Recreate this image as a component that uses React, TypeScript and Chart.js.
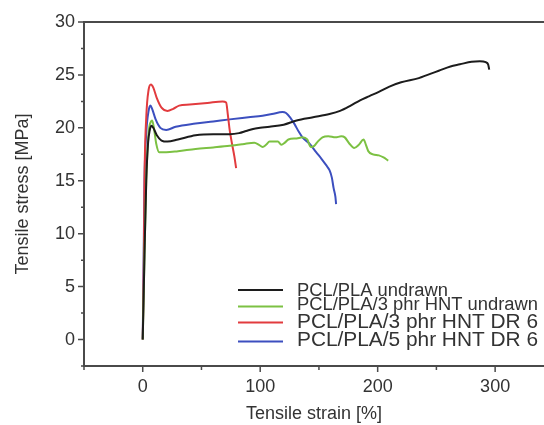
import React, { useEffect, useRef } from "react";
import { Chart, registerables } from "chart.js";

Chart.register(...registerables);

// ---------- data ----------
const seriesLabels = [
  "PCL/PLA undrawn",
  "PCL/PLA/3 phr HNT undrawn",
  "PCL/PLA/3 phr HNT DR 6",
  "PCL/PLA/5 phr HNT DR 6",
];
const seriesColors = ["#1c1c1c", "#7cc143", "#e23b3e", "#3c4fbf"];

const undrawnStrain = [0, 1.5, 3, 4.5, 6, 7.5, 9, 12, 16, 21, 30, 45, 60, 74, 82, 88, 94, 100, 108, 120, 131, 145, 159, 168, 177, 185, 193, 201, 210, 220, 235, 252, 262, 270, 280, 287, 292, 294, 295];
const undrawnStress = [0, 8, 15, 18.5, 19.8, 20.2, 20.0, 19.3, 18.8, 18.7, 18.9, 19.3, 19.4, 19.4, 19.5, 19.7, 19.9, 20.0, 20.1, 20.3, 20.7, 21.0, 21.3, 21.6, 22.1, 22.6, 23.0, 23.4, 23.9, 24.3, 24.7, 25.4, 25.8, 26.0, 26.25, 26.3, 26.2, 26.0, 25.5];

const hnt3UndrawnStrain = [0, 1.5, 3, 5, 7, 8, 9.5, 11.5, 14, 20, 30, 45, 60, 74, 85, 95, 99, 102, 105, 108, 115, 118, 121, 124, 131, 136, 140, 143, 146, 149, 153, 158, 164, 169, 172, 176, 180, 184, 188, 190, 192, 196, 201, 205, 209];
const hnt3UndrawnStress = [0, 8, 15, 19.5, 20.6, 20.7, 20.0, 18.5, 17.7, 17.7, 17.8, 18.0, 18.15, 18.3, 18.45, 18.6, 18.4, 18.2, 18.4, 18.7, 18.7, 18.4, 18.6, 18.9, 19.0, 19.1, 18.9, 18.2, 18.3, 18.7, 19.1, 19.2, 19.1, 19.2, 19.1, 18.5, 18.1, 18.4, 18.9, 18.4, 17.8, 17.5, 17.4, 17.2, 16.9];

const hnt3Dr6Strain = [0, 1, 1.5, 3, 5, 7, 9, 12, 16, 21, 26, 31, 40, 55, 68, 71, 72.5, 74, 76, 78, 79.5];
const hnt3Dr6Stress = [0, 8, 15, 21, 23.6, 24.1, 23.8, 22.8, 21.9, 21.6, 21.8, 22.1, 22.2, 22.35, 22.5, 22.4, 21.2, 19.8, 18.5, 17.3, 16.2];

const hnt5Dr6Strain = [0, 0.8, 1.5, 3, 5, 6.5, 8, 11, 15, 20, 28, 45, 60, 74, 90, 102, 110, 119, 122, 126, 129, 133, 136, 142, 147.6, 152, 156, 159, 161, 162.5, 164, 164.6];
const hnt5Dr6Stress = [0, 8, 15, 19.5, 21.6, 22.1, 21.8, 20.8, 20.0, 19.8, 20.1, 20.4, 20.6, 20.8, 21.0, 21.15, 21.3, 21.5, 21.4, 20.9, 20.4, 19.6, 19.1, 18.5, 17.7, 17.1, 16.5, 16.0, 15.3, 14.3, 13.5, 12.8];

const xTickValues = [-50, 0, 50, 100, 150, 200, 250, 300];
const xLabelValues = [0, 100, 200, 300];
const yTickValues = [-2.5, 0, 2.5, 5, 7.5, 10, 12.5, 15, 17.5, 20, 22.5, 25, 27.5, 30];
const yLabelValues = [0, 5, 10, 15, 20, 25, 30];

const FONT = '"Liberation Sans", Arial, Helvetica, sans-serif';
const AXIS_COLOR = "#4a4a4a";
const TEXT_COLOR = "#333333";

function toPoints(xs: number[], ys: number[]) {
  return xs.map((x, i) => ({ x, y: ys[i] }));
}

const seriesPoints = [
  toPoints(undrawnStrain, undrawnStress),
  toPoints(hnt3UndrawnStrain, hnt3UndrawnStress),
  toPoints(hnt3Dr6Strain, hnt3Dr6Stress),
  toPoints(hnt5Dr6Strain, hnt5Dr6Stress),
];

// draw text fitted to a target width
function drawFit(ctx: CanvasRenderingContext2D, text: string, x: number, baseline: number, size: number, width: number) {
  ctx.save();
  ctx.font = `${size}px ${FONT}`;
  ctx.textAlign = "left";
  ctx.textBaseline = "alphabetic";
  ctx.fillStyle = TEXT_COLOR;
  const w = ctx.measureText(text).width;
  ctx.translate(x, baseline);
  ctx.scale(width / w, 1);
  ctx.fillText(text, 0, 0);
  ctx.restore();
}

const axesPlugin = {
  id: "axesAndLegend",
  afterDatasetsDraw(chart: any) {
    const ctx: CanvasRenderingContext2D = chart.ctx;
    const { left, right, top, bottom } = chart.chartArea;
    const xs = chart.scales.x;
    const ys = chart.scales.y;
    ctx.save();
    ctx.strokeStyle = AXIS_COLOR;
    ctx.lineWidth = 2;
    ctx.beginPath();
    ctx.moveTo(left, top);
    ctx.lineTo(left, bottom);
    ctx.moveTo(left - 1, bottom);
    ctx.lineTo(right, bottom);
    ctx.moveTo(left - 1, top);
    ctx.lineTo(right, top);
    ctx.stroke();
    ctx.lineWidth = 1.5;
    ctx.beginPath();
    yTickValues.forEach((v) => {
      const py = ys.getPixelForValue(v);
      const len = yLabelValues.includes(v) ? 6 : 3;
      ctx.moveTo(left - len, py);
      ctx.lineTo(left, py);
    });
    xTickValues.forEach((v) => {
      const px = xs.getPixelForValue(v);
      const len = xLabelValues.includes(v) ? 6 : 4;
      ctx.moveTo(px, bottom);
      ctx.lineTo(px, bottom + len);
    });
    ctx.stroke();
    ctx.restore();

    // legend
    const rows = [
      { lineY: 290, base: 296, size: 18, w: 151 },
      { lineY: 306.5, base: 310, size: 18, w: 241 },
      { lineY: 322.5, base: 327.7, size: 21, w: 241 },
      { lineY: 341.5, base: 346, size: 21, w: 241 },
    ];
    rows.forEach((r, i) => {
      ctx.save();
      ctx.strokeStyle = seriesColors[i];
      ctx.lineWidth = 2;
      ctx.beginPath();
      ctx.moveTo(238, r.lineY);
      ctx.lineTo(283, r.lineY);
      ctx.stroke();
      ctx.restore();
      drawFit(ctx, seriesLabels[i], 297, r.base, r.size, r.w);
    });
  },
};

export default function App() {
  const canvasRef = useRef<HTMLCanvasElement | null>(null);

  useEffect(() => {
    if (!canvasRef.current) return;
    const chart = new Chart(canvasRef.current, {
      type: "scatter",
      data: {
        datasets: seriesPoints.map((pts, i) => ({
          label: seriesLabels[i],
          data: pts,
          showLine: true,
          borderColor: seriesColors[i],
          backgroundColor: seriesColors[i],
          borderWidth: 2,
          pointRadius: 0,
          pointHoverRadius: 0,
          cubicInterpolationMode: "monotone" as const,
          fill: false,
        })),
      },
      options: {
        responsive: false,
        animation: false,
        events: [],
        layout: { padding: { top: 22, right: 0, bottom: 0, left: 0 } },
        plugins: {
          legend: { display: false },
          tooltip: { enabled: false },
          title: { display: false },
        },
        scales: {
          x: {
            type: "linear",
            position: "bottom",
            min: -50,
            max: 341.6,
            grid: { display: false, drawTicks: false },
            border: { display: false },
            ticks: {
              autoSkip: false,
              maxRotation: 0,
              padding: 10,
              color: TEXT_COLOR,
              font: { family: FONT, size: 18 },
              callback: (v: any) => (xLabelValues.includes(Number(v)) ? String(v) : ""),
            },
            afterBuildTicks: (s: any) => {
              s.ticks = xTickValues.map((v) => ({ value: v }));
            },
            afterFit: (s: any) => {
              s.height = 59;
            },
            title: {
              display: true,
              text: "Tensile strain [%]",
              color: TEXT_COLOR,
              font: { family: FONT, size: 18 },
              padding: { top: 0, bottom: 0 },
            },
          },
          y: {
            type: "linear",
            min: -2.5,
            max: 30,
            grid: { display: false, drawTicks: false },
            border: { display: false },
            ticks: {
              autoSkip: false,
              padding: 9,
              color: TEXT_COLOR,
              font: { family: FONT, size: 18 },
              callback: (v: any) => (yLabelValues.includes(Number(v)) ? String(v) : ""),
            },
            afterBuildTicks: (s: any) => {
              s.ticks = yTickValues.map((v) => ({ value: v }));
            },
            afterFit: (s: any) => {
              s.width = 84;
            },
            title: {
              display: true,
              text: "Tensile stress [MPa]",
              color: TEXT_COLOR,
              font: { family: FONT, size: 18 },
              padding: { top: 12, bottom: 0 },
            },
          },
        },
      },
      plugins: [axesPlugin],
    });
    return () => chart.destroy();
  }, []);

  return (
    <div style={{ position: "fixed", left: 0, top: 0, width: 544, height: 425, background: "#fff" }}>
      <canvas ref={canvasRef} width={544} height={425} />
    </div>
  );
}
